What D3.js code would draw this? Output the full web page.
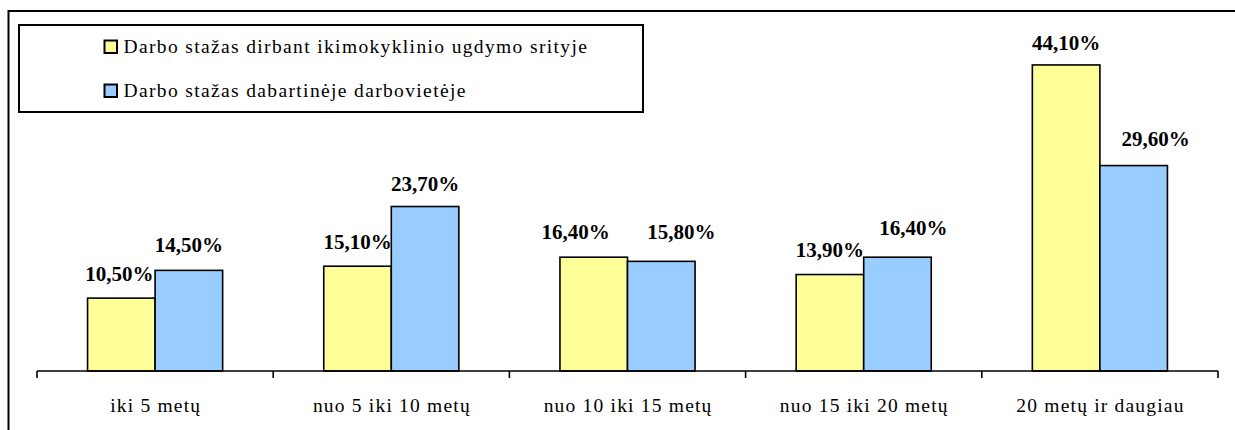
<!DOCTYPE html>
<html>
<head>
<meta charset="utf-8">
<script src="https://cdn.jsdelivr.net/npm/d3@7"></script>
<style>
  html, body { margin: 0; padding: 0; background: #fff; }
  svg { display: block; }
</style>
</head>
<body>
<svg id="chart" width="1235" height="430"></svg>
<script>
// ---- data ----
const categories = ["iki 5 metų", "nuo 5 iki 10 metų", "nuo 10 iki 15 metų", "nuo 15 iki 20 metų", "20 metų ir daugiau"];
const seriesNames = ["Darbo stažas dirbant ikimokyklinio ugdymo srityje", "Darbo stažas dabartinėje darbovietėje"];
const seriesIndustry = [10.5, 15.1, 16.4, 13.9, 44.1];
const seriesCurrent = [14.5, 23.7, 15.8, 16.4, 29.6];
const seriesColors = ["#FFFF99", "#99CCFF"];
// manual label nudges (layout only) [dx, dy] per series per category
const labelNudgeIndustry = [[-2, -17], [0, -17], [-18, -18], [0, -18], [0, -15]];
const labelNudgeCurrent = [[0, -18], [0, -16], [20, -22], [16, -22], [22, -20]];

const fmt = v => d3.format(".2f")(v).replace(".", ",") + "%";
const serif = "'Liberation Serif', 'Times New Roman', serif";

const svg = d3.select("#chart");

// outer frame (clipped at right/bottom)
svg.append("rect").attr("x", 8.5).attr("y", 11).attr("width", 1240).attr("height", 430)
  .attr("fill", "none").attr("stroke", "#000").attr("stroke-width", 2);

const x0 = d3.scaleBand().domain(categories).range([37, 1218]).paddingInner(0.428).paddingOuter(0.214);
const x1 = d3.scaleBand().domain([0, 1]).range([0, x0.bandwidth()]);
const y = d3.scaleLinear().domain([0, 50]).range([371, 24]);

const series = [seriesIndustry, seriesCurrent];
const nudges = [labelNudgeIndustry, labelNudgeCurrent];

const groups = svg.append("g").selectAll("g").data(categories).join("g")
  .attr("transform", d => `translate(${x0(d)},0)`);

series.forEach((vals, si) => {
  groups.append("rect")
    .attr("x", x1(si))
    .attr("y", (d, i) => y(vals[i]))
    .attr("width", x1.bandwidth())
    .attr("height", (d, i) => y(0) - y(vals[i]))
    .attr("fill", seriesColors[si])
    .attr("stroke", "#000").attr("stroke-width", 1.6);
});
series.forEach((vals, si) => {
  groups.append("text")
    .attr("x", (d, i) => x1(si) + x1.bandwidth() / 2 + nudges[si][i][0])
    .attr("y", (d, i) => y(vals[i]) + nudges[si][i][1])
    .attr("text-anchor", "middle")
    .attr("font-family", serif)
    .attr("font-weight", "bold")
    .attr("font-size", "21px")
    .attr("fill", "#000")
    .text((d, i) => fmt(vals[i]));
});

// x axis
const axisY = y(0);
svg.append("line").attr("x1", 37).attr("x2", 1218).attr("y1", axisY).attr("y2", axisY)
  .attr("stroke", "#000").attr("stroke-width", 1.6);
const tickXs = categories.map(c => x0(c) - x0.step() * x0.paddingInner() / 2).concat([1218]);
svg.append("g").selectAll("line").data(tickXs).join("line")
  .attr("x1", d => d).attr("x2", d => d).attr("y1", axisY).attr("y2", axisY + 7)
  .attr("stroke", "#000").attr("stroke-width", 1.6);
svg.append("g").selectAll("text").data(categories).join("text")
  .attr("x", d => x0(d) + x0.bandwidth() / 2 + 0.6)
  .attr("y", 411.5)
  .attr("text-anchor", "middle")
  .attr("font-family", serif)
  .attr("font-size", "19.5px")
  .attr("letter-spacing", "1.2px")
  .attr("fill", "#000")
  .text(d => d);

// legend
const lg = svg.append("g");
lg.append("rect").attr("x", 19).attr("y", 25).attr("width", 624).attr("height", 87)
  .attr("fill", "#fff").attr("stroke", "#000").attr("stroke-width", 2);
const rows = lg.selectAll("g.row").data(seriesNames).join("g").attr("class", "row")
  .attr("transform", (d, i) => `translate(0,${i * 44})`);
rows.append("rect").attr("x", 104.5).attr("y", 40.5).attr("width", 12.5).attr("height", 12.5)
  .attr("fill", (d, i) => seriesColors[i]).attr("stroke", "#000").attr("stroke-width", 2);
rows.append("text").attr("x", 123.5).attr("y", 53)
  .attr("font-family", serif)
  .attr("font-size", "19.5px").attr("letter-spacing", "1.36px").attr("fill", "#000")
  .text(d => d);
</script>
</body>
</html>
